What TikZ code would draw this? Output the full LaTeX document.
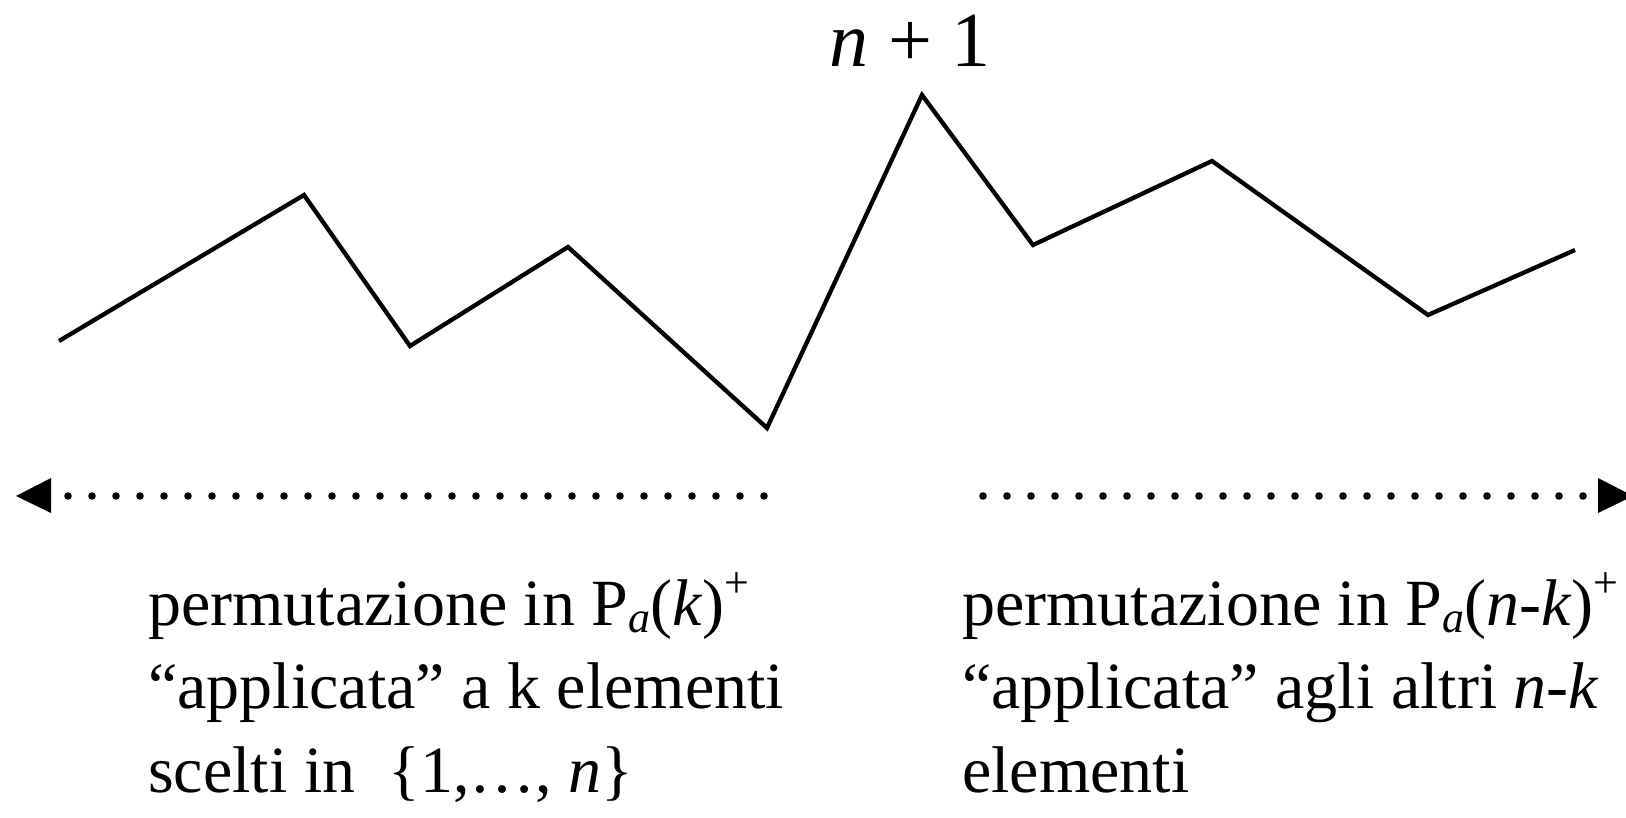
\documentclass[tikz,border=0pt]{standalone}
\usepackage{fontspec}
\setmainfont{Liberation Serif}
\tikzset{
  zig/.style={line width=4.3pt, line join=miter, black},
  dotmark/.style={fill=black},
  tipmark/.style={fill=black},
  lbl/.style={anchor=base west, inner sep=0pt, font=\fontsize{66}{83}\selectfont},
  toplbl/.style={anchor=base, inner sep=0pt, font=\fontsize{78}{90}\selectfont}
}
\newcommand{\subA}{\raisebox{-0.12em}{\fontsize{44}{50}\selectfont\textit{a}}}
\newcommand{\supPlus}{\raisebox{0.42em}{\fontsize{44}{50}\selectfont +}}
\begin{document}
\begin{tikzpicture}[x=1pt,y=-1pt]
\useasboundingbox (0,0) rectangle (1626,818);
\clip (0,0) rectangle (1626,818);
% zigzag permutation
\draw[zig] (59,341) -- (304,195) -- (410,346) -- (568,247) -- (767,428)
  -- (922,95) -- (1033,245) -- (1212,161) -- (1428,315) -- (1575,250);
\node[toplbl] (top) at (910,67) {\textit{n} + 1};
% dotted arrows
\foreach \i in {0,...,29} \fill[dotmark] (68+24*\i,496) circle (3.8);
\foreach \i in {0,...,25} \fill[dotmark] (983+24*\i,496) circle (3.8);
\fill[tipmark] (16,496) -- (51,478) -- (51,513) -- cycle;
\fill[tipmark] (1633,496) -- (1598,478) -- (1598,513) -- cycle;
% labels
\node[lbl] (l1) at (148,625) {permutazione in P\subA(\textit{k})\supPlus};
\node[lbl] (l2) at (148,708) {“applicata” a k elementi};
\node[lbl] (l3) at (148,792) {scelti in \ \{1,…, \textit{n}\}};
\node[lbl] (r1) at (962,625) {permutazione in P\subA(\textit{n}-\textit{k})\supPlus};
\node[lbl] (r2) at (962,708) {“applicata” agli altri \textit{n}-\textit{k}};
\node[lbl] (r3) at (962,792) {elementi};
\end{tikzpicture}
\end{document}
